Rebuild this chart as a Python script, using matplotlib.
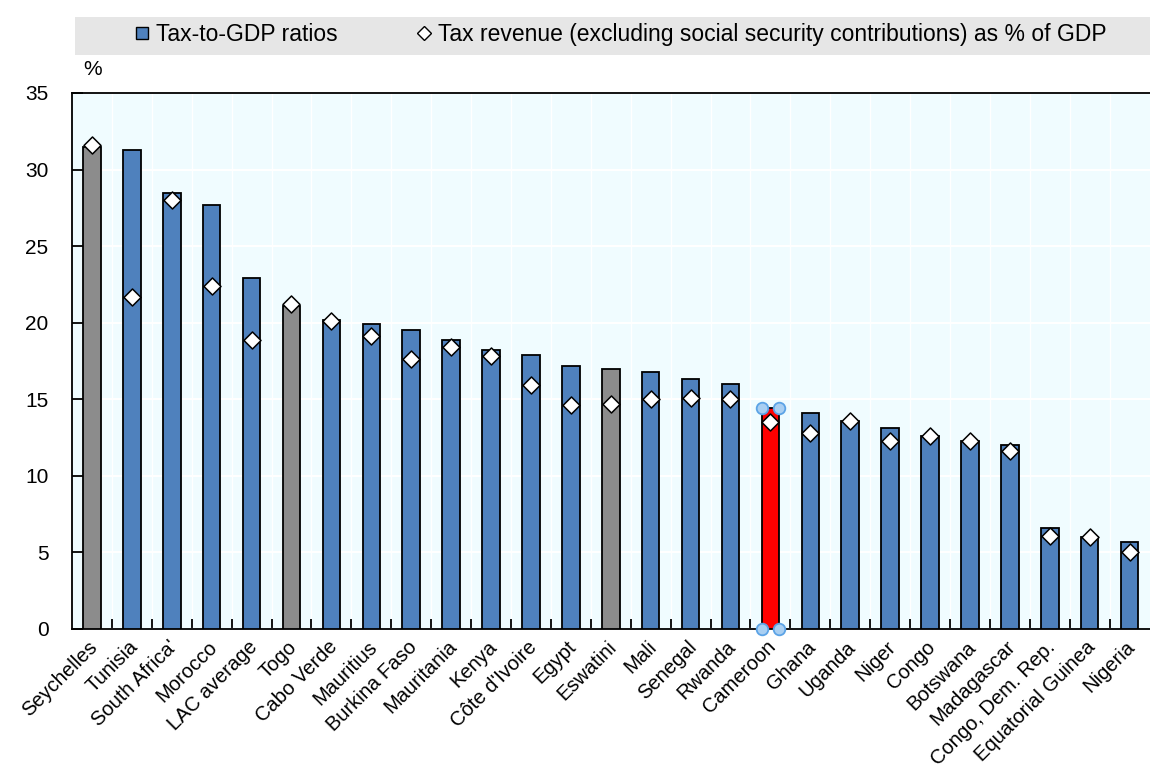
import matplotlib.pyplot as plt
import numpy as np
from matplotlib.patches import Rectangle
from matplotlib.lines import Line2D

plt.rcParams["font.family"] = ["Liberation Sans", "DejaVu Sans"]

countries = ["Seychelles", "Tunisia", "South Africa'", "Morocco", "LAC average",
             "Togo", "Cabo Verde", "Mauritius", "Burkina Faso", "Mauritania",
             "Kenya", "Côte d'Ivoire", "Egypt", "Eswatini", "Mali", "Senegal",
             "Rwanda", "Cameroon", "Ghana", "Uganda", "Niger", "Congo",
             "Botswana", "Madagascar", "Congo, Dem. Rep.", "Equatorial Guinea",
             "Nigeria"]
tax_to_gdp = [31.5, 31.3, 28.5, 27.7, 22.9, 21.1, 20.2, 19.9, 19.5, 18.9,
              18.2, 17.9, 17.2, 17.0, 16.8, 16.3, 16.0, 14.4, 14.1, 13.6,
              13.1, 12.6, 12.3, 12.0, 6.6, 6.0, 5.7]
tax_excl_ssc = [31.6, 21.7, 28.0, 22.4, 18.9, 21.2, 20.1, 19.1, 17.6, 18.4,
                17.8, 15.9, 14.6, 14.7, 15.0, 15.1, 15.0, 13.5, 12.8, 13.6,
                12.3, 12.6, 12.3, 11.6, 6.1, 6.0, 5.05]
grey_ones = ["Seychelles", "Togo", "Eswatini"]
highlight = "Cameroon"

BLUE = "#4F81BD"
GREY = "#8C8C8C"
RED = "#FF0000"

colors = []
for c in countries:
    if c == highlight:
        colors.append(RED)
    elif c in grey_ones:
        colors.append(GREY)
    else:
        colors.append(BLUE)

fig = plt.figure(figsize=(11.5, 7.8), dpi=100)
ax = fig.add_axes([0.0626, 0.1936, 0.937, 0.6872])
ax.set_facecolor("#F0FCFF")

xs = np.arange(len(countries))
ax.bar(xs, tax_to_gdp, width=0.44, color=colors, edgecolor="black",
       linewidth=1.3, zorder=3)
ax.scatter(xs, tax_excl_ssc, marker="D", s=75, facecolor="white",
           edgecolor="black", linewidth=1.1, zorder=4)

# selection handles around the highlighted bar (as in the screenshot)
i = countries.index(highlight)
hx = [i - 0.22, i + 0.22, i - 0.22, i + 0.22]
hy = [tax_to_gdp[i], tax_to_gdp[i], 0, 0]
ax.scatter(hx, hy, s=70, facecolor="#A9CFF2", edgecolor="#5BA3E6",
           linewidth=1.3, zorder=5, clip_on=False)

ax.set_xlim(-0.5, len(countries) - 0.5)
ax.set_ylim(0, 35)
ax.set_yticks(np.arange(0, 36, 5))
ax.set_xticks(xs - 0.1)
ax.set_xticklabels(countries, rotation=45, ha="right", rotation_mode="anchor",
                   fontsize=14.5)
ax.set_xticks(xs[:-1] + 0.5, minor=True)
ax.tick_params(axis="x", which="major", length=0, pad=6)
ax.tick_params(axis="x", which="minor", direction="in", length=7, width=1.3)
ax.tick_params(axis="y", direction="in", length=8, width=1.3, labelsize=15,
               pad=17)
ax.grid(axis="y", color="white", linewidth=1.5, zorder=0)
ax.grid(axis="x", which="minor", color="white", linewidth=1.0, zorder=0)
for s in ["top", "right"]:
    ax.spines[s].set_visible(False)
ax.spines["left"].set_linewidth(1.3)
ax.spines["bottom"].set_linewidth(1.3)
ax.plot([-0.5, len(countries) - 0.5], [35, 35], color="black", lw=1.3,
        clip_on=False, zorder=6)

fig.text(0.072, 0.911, "%", fontsize=15, ha="left", va="center")

# legend band
fig.patches.append(Rectangle((0.065, 0.93), 0.935, 0.048, transform=fig.transFigure,
                             facecolor="#E6E6E6", edgecolor="none", zorder=0))
handles = [
    Line2D([], [], marker="s", linestyle="none", markersize=9,
           markerfacecolor=BLUE, markeredgecolor="black"),
    Line2D([], [], marker="D", linestyle="none", markersize=7,
           markerfacecolor="white", markeredgecolor="black"),
]
labels = ["Tax-to-GDP ratios",
          "Tax revenue (excluding social security contributions) as % of GDP"]
fig.legend(handles, labels, loc="center", bbox_to_anchor=(0.54, 0.956), ncol=2,
           frameon=False, fontsize=16.5, handlelength=0.6, handletextpad=0.3,
           columnspacing=3.5)

fig.savefig("out.png", dpi=100)
